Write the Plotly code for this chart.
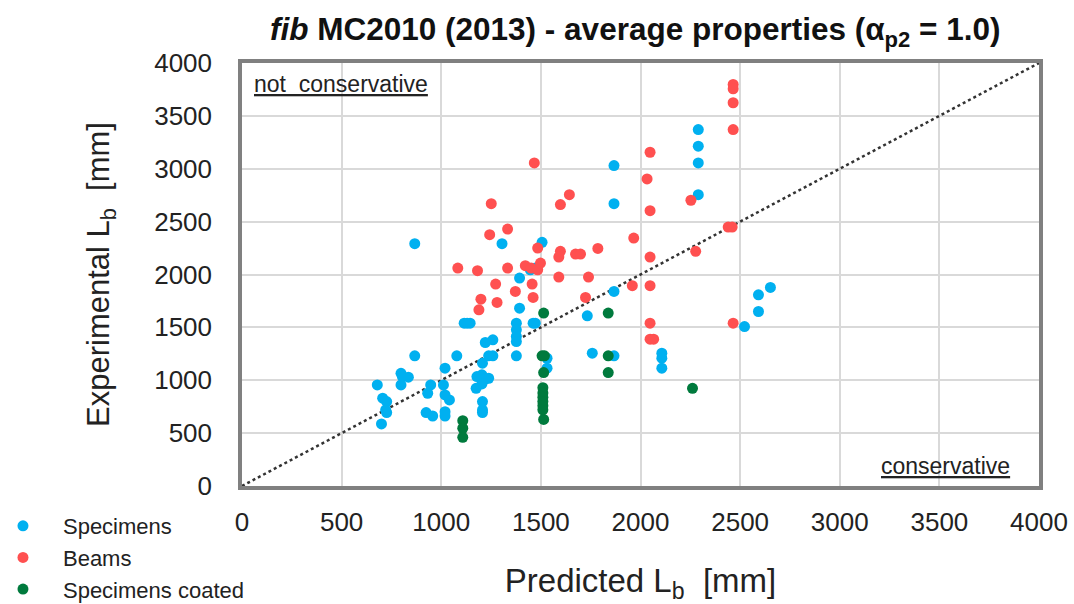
import plotly.graph_objects as go

# Specimens (blue)
spec_x = [867, 679, 706, 726, 721, 726, 700, 798, 805, 835, 798, 867, 947, 932, 924, 957,
          1019, 1011, 1019, 1041, 1019, 1019, 1078, 1115, 1130, 1145, 1221, 1259, 1207, 1238,
          1259, 1179, 1204, 1221, 1238, 1175, 1204, 1207, 1207, 1207, 1393, 1305, 1506, 1447,
          1472, 1393, 1377, 1377, 1377, 1377, 1461, 1472, 1377, 1531, 1531, 1733, 1758, 1867,
          1867, 1867, 1867, 2107, 2107, 2107, 2290, 2290, 2290, 2290, 2522, 2592, 2592, 2652]
spec_y = [2291, 956, 830, 798, 719, 694, 587, 1066, 1035, 1029, 956, 1231, 956, 877, 694, 662,
          1114, 956, 861, 814, 703, 662, 1231, 1540, 1540, 1540, 1357, 1382, 1161, 1231,
          1231, 1035, 1051, 1010, 1019, 924, 965, 798, 719, 694, 1966, 2291, 2304, 2045,
          2061, 1682, 1540, 1477, 1414, 1366, 1540, 1540, 1231, 1208, 1114, 1609, 1256, 1840,
          1231, 2670, 3030, 1256, 1209, 1114, 3371, 3213, 3055, 2755, 1508, 1808, 1650, 1878]

# Beams (red)
beam_x = [1467, 1251, 1243, 1333, 1598, 1643, 2048, 2033, 2048, 1966, 2048, 1484, 1598, 1590,
          1674, 1699, 1786, 1083, 1182, 1333, 1422, 1451, 1484, 1498, 1590, 1739, 1273, 1456,
          1372, 1959, 2048, 1199, 1189, 1280, 1461, 1724, 2048, 2048, 2066, 2465, 2465, 2465,
          2465, 2253, 2440, 2460, 2277, 2465]
beam_y = [3055, 2670, 2377, 2430, 2661, 2755, 3156, 2904, 2604, 2345, 2165, 2250, 2219, 2165,
          2193, 2193, 2247, 2061, 2036, 2061, 2083, 2061, 2045, 2108, 1976, 1976, 1909, 1909,
          1840, 1894, 1894, 1767, 1666, 1736, 1783, 1783, 1540, 1388, 1388, 3797, 3756, 3624,
          3371, 2702, 2449, 2449, 2219, 1540]

# Specimens coated (green)
coat_x = [1108, 1108, 1108, 1514, 1506, 1518, 1514, 1510, 1510, 1510, 1510, 1510, 1510, 1514,
          1838, 1838, 1838, 2261]
coat_y = [618, 546, 460, 1635, 1231, 1231, 1073, 930, 880, 840, 800, 760, 720, 630,
          1635, 1231, 1073, 924]

ref_line = [0, 4000]
ticks = [0, 500, 1000, 1500, 2000, 2500, 3000, 3500, 4000]

FONT = "Liberation Sans, Arial, sans-serif"

fig = go.Figure()
fig.add_trace(go.Scatter(x=ref_line, y=ref_line, mode="lines",
                         line=dict(color="#333333", width=2.5, dash="dot"),
                         showlegend=False, hoverinfo="skip"))
fig.add_trace(go.Scatter(x=spec_x, y=spec_y, mode="markers", name="Specimens",
                         marker=dict(color="#00b0f0", size=11)))
fig.add_trace(go.Scatter(x=beam_x, y=beam_y, mode="markers", name="Beams",
                         marker=dict(color="#ff5050", size=11)))
fig.add_trace(go.Scatter(x=coat_x, y=coat_y, mode="markers", name="Specimens coated",
                         marker=dict(color="#007a3d", size=11)))

axis_common = dict(range=[0, 4000], tickvals=ticks, showgrid=True, gridcolor="#d9d9d9",
                   gridwidth=1.5, zeroline=False, showline=True, linecolor="#808080",
                   linewidth=3.5, mirror=True, ticks="", automargin=True,
                   tickfont=dict(family=FONT, size=26, color="#222"))

fig.update_xaxes(**axis_common, ticklabelstandoff=10,
                 title=dict(text="Predicted L<sub>b</sub>  [mm]", font=dict(family=FONT, size=33, color="#222"),
                            standoff=38))
fig.update_yaxes(**axis_common, ticklabelstandoff=21,
                 title=dict(text="Experimental L<sub>b</sub>  [mm]", font=dict(family=FONT, size=31, color="#222"),
                            standoff=36))

fig.add_annotation(x=0.012, y=0.985, xref="paper", yref="paper", xanchor="left", yanchor="top",
                   text='<span style="text-decoration:underline">not  conservative</span>',
                   showarrow=False, font=dict(family=FONT, size=23, color="#222"))
fig.add_annotation(x=0.966, y=0.012, xref="paper", yref="paper", xanchor="right", yanchor="bottom",
                   text='<span style="text-decoration:underline">conservative</span>',
                   showarrow=False, font=dict(family=FONT, size=23, color="#222"))

fig.update_layout(
    width=1074, height=604,
    margin=dict(l=242, r=35, t=63, b=118, autoexpand=False),
    paper_bgcolor="white", plot_bgcolor="white",
    title=dict(text="<b><i>fib</i> MC2010 (2013) - average properties (α<sub>p2</sub> = 1.0)</b>",
               x=0.5915, xanchor="center", y=0.952, yanchor="middle",
               font=dict(family=FONT, size=31.5, color="#111")),
    legend=dict(x=-0.325, xanchor="left", y=-0.045, yanchor="top",
                font=dict(family=FONT, size=22, color="#222"), itemwidth=70,
                tracegroupgap=0, bgcolor="rgba(0,0,0,0)"),
)

fig.write_html("out.html")
